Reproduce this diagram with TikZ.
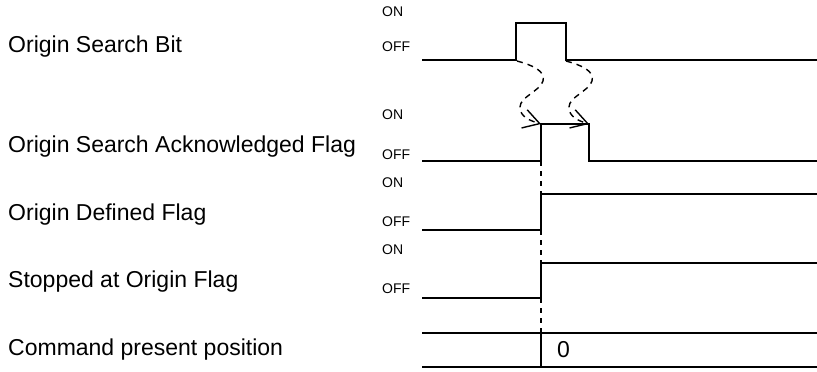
\documentclass[tikz,border=0pt]{standalone}
\usepackage{fontspec}
\setmainfont{Liberation Sans}
\usetikzlibrary{arrows.meta}
\begin{document}
\begin{tikzpicture}[x=1pt,y=-1pt,
  sig/.style={line width=1.6pt,line join=miter},
  guide/.style={line width=1.1pt,dash pattern=on 5pt off 5pt},
  wave/.style={line width=1.4pt,dash pattern=on 6pt off 5pt,
    -{Straight Barb[length=16pt,width=19pt,line width=1.4pt]}},
  lbl/.style={anchor=west,inner sep=0pt,font=\fontsize{23}{27}\selectfont},
  lvl/.style={anchor=west,inner sep=0pt,font=\fontsize{14}{16}\selectfont}]
\useasboundingbox (0,0) rectangle (817,372);
% labels
\node[lbl] (l1) at (8,47) {Origin Search Bit};
\node[lbl] (l2) at (8,147) {Origin Search Acknowledged Flag};
\node[lbl] (l3) at (8,215) {Origin Defined Flag};
\node[lbl] (l4) at (8,282) {Stopped at Origin Flag};
\node[lbl] (l5) at (8,350) {Command present position};
\node[lvl] (on1) at (382,12) {ON};
\node[lvl] (off1) at (382,47) {OFF};
\node[lvl] (on2) at (382,115) {ON};
\node[lvl] (off2) at (382,155) {OFF};
\node[lvl] (on3) at (382,183) {ON};
\node[lvl] (off3) at (382,222) {OFF};
\node[lvl] (on4) at (382,250) {ON};
\node[lvl] (off4) at (382,289) {OFF};
% signals
\draw[sig] (422,60) -- (516,60) -- (516,23) -- (566,23) -- (566,60) -- (817,60);
\draw[sig] (422,161) -- (541,161) -- (541,124) -- (589,124) -- (589,161) -- (817,161);
\draw[sig] (422,230) -- (541,230) -- (541,194) -- (817,194);
\draw[sig] (422,298) -- (541,298) -- (541,263) -- (817,263);
\draw[sig] (422,333) -- (817,333);
\draw[sig] (422,367) -- (817,367);
\draw[sig] (541,333) -- (541,367);
\node[lbl] (zero) at (557,350) {0};
% guides
\draw[guide] (541,161) -- (541,194);
\draw[guide] (541,230) -- (541,263);
\draw[guide] (541,298) -- (541,333);
% wavy arrows
\coordinate (a1s) at (517,61);
\coordinate (a1e) at (541,124);
\coordinate (a2s) at (566,61);
\coordinate (a2e) at (589,124);
\draw[wave] (a1s) .. controls (532,65) and (546,71) .. (543,81)
  .. controls (540,91) and (520,97) .. (520,107)
  .. controls (520,117) and (530,120.6) .. (a1e);
\draw[wave] (a2s) .. controls (581,65) and (595,71) .. (592,81)
  .. controls (589,91) and (569,97) .. (569,107)
  .. controls (569,117) and (578,120.6) .. (a2e);
\end{tikzpicture}
\end{document}
